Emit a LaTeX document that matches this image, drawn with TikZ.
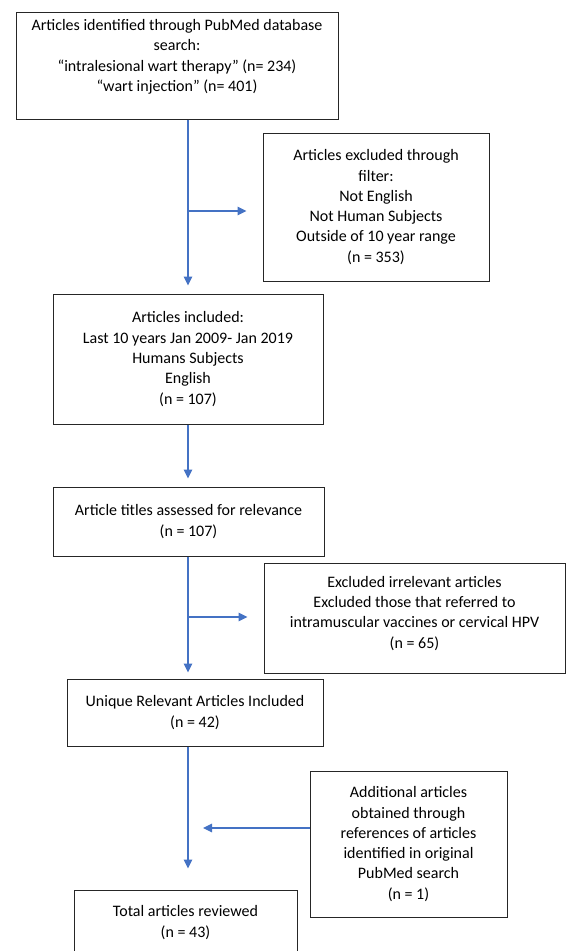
\documentclass[tikz,border=0pt]{standalone}
\usepackage{fontspec}
\setmainfont{Carlito}
\usetikzlibrary{arrows.meta,calc}
\definecolor{arrblue}{HTML}{4472C4}
\begin{document}
\begin{tikzpicture}[x=1pt,y=1pt,
  box/.style={draw=black!85,line width=1pt,inner sep=0pt,align=center,
    font=\fontsize{16}{20.3}\selectfont},
  flow/.style={draw=arrblue,line width=1.2pt,-{Triangle[length=9pt,width=8.5pt]}}]
\useasboundingbox (0,0) rectangle (569,-951);
\clip (0,0) rectangle (569,-951);
\fill[white] (0,0) rectangle (569,-951);
\node[box,minimum width=322pt,minimum height=107pt] (b1) at (177,-65.5)
 {Articles identified through PubMed database\\search:\\``intralesional wart therapy'' (n= 234)\\``wart injection'' (n= 401)\rule[-20pt]{0pt}{20pt}};
\node[box,minimum width=226pt,minimum height=148pt] (b2) at (376,-207)
 {Articles excluded through\\filter:\\Not English\\Not Human Subjects\\Outside of 10 year range\\(n = 353)};
\node[box,minimum width=270pt,minimum height=130pt] (b3) at (188,-359)
 {Articles included:\\Last 10 years Jan 2009- Jan 2019\\Humans Subjects\\English\\(n = 107)};
\node[box,minimum width=271pt,minimum height=69pt] (b4) at (188.5,-521.5)
 {Article titles assessed for relevance\\(n = 107)};
\node[box,minimum width=301pt,minimum height=110pt] (b5) at (414.5,-618)
 {Excluded irrelevant articles\\Excluded those that referred to\\intramuscular vaccines or cervical HPV\\(n = 65)\rule[-12pt]{0pt}{12pt}};
\node[box,minimum width=256pt,minimum height=67pt] (b6) at (195,-712.5)
 {Unique Relevant Articles Included\\(n = 42)};
\node[box,minimum width=197pt,minimum height=146pt] (b7) at (408.5,-844)
 {Additional articles\\obtained through\\references of articles\\identified in original\\PubMed search\\(n = 1)};
\node[box,minimum width=223pt,minimum height=65pt] (b8) at (185.5,-922.5)
 {Total articles reviewed\\(n = 43)};
% main line
\coordinate (j1) at (188,-211);
\coordinate (j2) at (188,-617);
\coordinate (j3) at (188,-828);
\coordinate (s7) at (b7.west |- j3);
\draw[flow,shorten >=8pt] (j1 |- b1.south) -- (j1 |- b3.north);
\draw[flow,shorten >=16pt] (j1) -- (j1 -| b2.west);
\draw[flow,shorten >=8pt] (j1 |- b3.south) -- (j1 |- b4.north);
\draw[flow,shorten >=6pt] (j2 |- b4.south) -- (j2 |- b6.north);
\draw[flow,shorten >=16pt] (j2) -- (j2 -| b5.west);
\draw[flow,shorten >=21pt] (j3 |- b6.south) -- (j3 |- b8.north);
\draw[flow,shorten >=15pt] (s7) -- (j3);
\end{tikzpicture}
\end{document}
